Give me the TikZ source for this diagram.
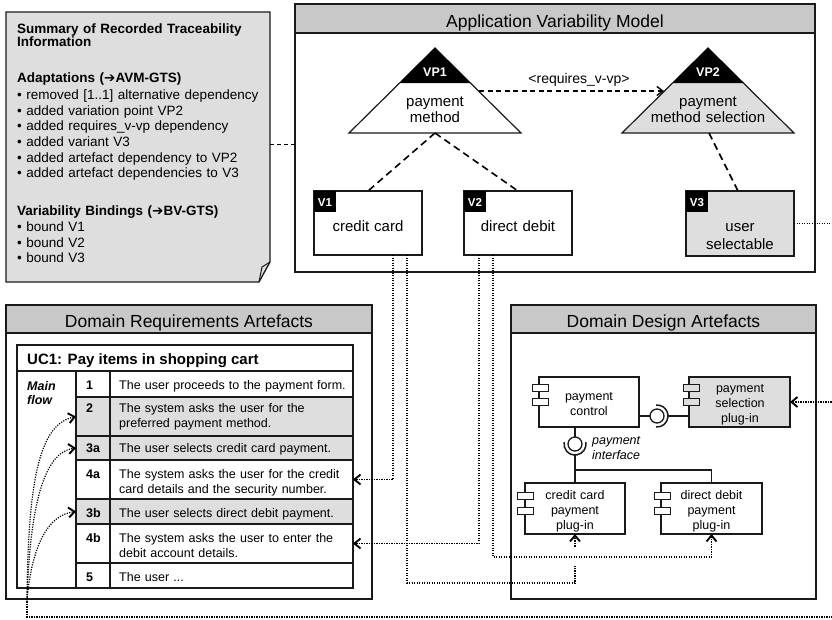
\documentclass[tikz,border=0pt]{standalone}
\usepackage{fontspec}
\setmainfont{Liberation Sans}
\newfontfamily\symfont{DejaVu Sans}
\usetikzlibrary{arrows.meta,calc}
\definecolor{bargray}{HTML}{C8C8C8}
\definecolor{fillgray}{HTML}{DEDEDE}
\definecolor{edgec}{HTML}{1A1A1A}
\newcommand{\fsz}[2]{\fontsize{#1}{#2}\selectfont}
\begin{document}
\begin{tikzpicture}[x=1pt,y=-1pt,
  box/.style={draw=edgec,line width=1.3,fill=white,anchor=north west,inner sep=0,outer sep=0},
  bar/.style={box,fill=bargray},
  cell/.style={draw=edgec,line width=1.2,fill=white,anchor=north west,inner sep=0,outer sep=0},
  tag/.style={fill=black,anchor=north west,inner sep=0,outer sep=0,minimum width=22,minimum height=21},
  tagtext/.style={text=white,font=\bfseries\fsz{11.5}{13},anchor=base,inner sep=0},
  titletext/.style={font=\fsz{17.5}{20},anchor=base,inner sep=0},
  lbl/.style={font=\fsz{15}{16.5},anchor=base,inner sep=0,align=center,text width=#1},
  lbl/.default=110,
  comp/.style={font=\fsz{12.5}{15},anchor=base,inner sep=0,align=center,text width=100},
  icon/.style={draw=edgec,line width=1,fill=white,anchor=north west,inner sep=0,outer sep=0,minimum width=16,minimum height=7},
  num/.style={font=\bfseries\fsz{12.5}{15},anchor=base west,inner sep=0},
  tb/.style={font=\fsz{12.5}{15},anchor=base west,inner sep=0,align=left,text width=238},
  notetxt/.style={anchor=base west,inner sep=0,align=left,text width=255},
  dotl/.style={line width=1.2,dash pattern=on 1.2pt off 1.3pt},
  arr/.style={-{Straight Barb[length=6pt,width=10pt,line width=1.9pt]}},
  notedash/.style={line width=1,dash pattern=on 4pt off 3pt},
  reqdash/.style={line width=1.2,dash pattern=on 5pt off 3.5pt},
  vpdash/.style={line width=1.6,dash pattern=on 7pt off 4.5pt},
  iface/.style={draw=edgec,line width=1.3}
]
\useasboundingbox (0,0) rectangle (832,619);
\clip (0,0) rectangle (832,619);

% ---------- Note ----------
\node[anchor=north west,inner sep=0,outer sep=0,minimum width=264,minimum height=270] (note) at (6,12) {};
\filldraw[fill=fillgray,draw=edgec,line width=1.3] (6,12) -- (270,12) -- (270,262) -- (259,282) -- (6,282) -- cycle;
\draw[edgec,line width=1] (270,262) -- (262,267) -- (259,282);
\node[notetxt,font=\bfseries\fsz{13.5}{13.7}] (notea) at (17,33) {Summary of Recorded Traceability\\Information};
\node[notetxt,font=\fsz{13.5}{15.7}] (noteb) at (17,82) {\textbf{Adaptations ({\symfont ➔}AVM-GTS)}\\[1.6pt]
• removed [1..1] alternative dependency\\
• added variation point VP2\\
• added requires\_v-vp dependency\\
• added variant V3\\
• added artefact dependency to VP2\\
• added artefact dependencies to V3};
\node[notetxt,font=\fsz{13.5}{15.7}] (notec) at (17,215.7) {\textbf{Variability Bindings ({\symfont ➔}BV-GTS)}\\
• bound V1\\
• bound V2\\
• bound V3};

% ---------- Application Variability Model ----------
\node[box,minimum width=520,minimum height=268] (avm) at (295,4) {};
\node[bar,minimum width=520,minimum height=29] (avmbar) at (295,4) {};
\node[titletext] (avmtitle) at (555,27) {Application Variability Model};

\coordinate (ny) at (0,144);
\draw[notedash] (note.east |- ny) -- (avm.west |- ny);

% VP1
\coordinate (vp1b) at (435,133);
\filldraw[fill=white,draw=edgec,line width=1.2] (435,48) -- (521,133) -- (349,133) -- cycle;
\fill[black] (435,48) -- (470.4,83) -- (399.6,83) -- cycle;
\node[tagtext,font=\bfseries\fsz{12.5}{14}] (vp1tag) at (435,76) {VP1};
\node[lbl=120] (vp1txt) at (435,106) {payment\\method};

% VP2
\coordinate (vp2b) at (709,133);
\filldraw[fill=fillgray,draw=edgec,line width=1.2] (708,48) -- (794,133) -- (622,133) -- cycle;
\fill[black] (708,48) -- (743.4,83) -- (672.6,83) -- cycle;
\node[tagtext,font=\bfseries\fsz{12.5}{14}] (vp2tag) at (708,76) {VP2};
\node[lbl=160] (vp2txt) at (708,106) {payment\\method selection};

% requires
\coordinate (vp1r) at (479,91);
\coordinate (vp2l) at (664,91);
\draw[reqdash,-{Straight Barb[length=6pt,width=9pt,line width=1.4pt]}] (vp1r) -- (vp2l);
\node[font=\fsz{14}{16},anchor=base,inner sep=0] (reqlbl) at (579,83) {<requires\_v-vp>};

% Variants
\node[box,minimum width=108,minimum height=64] (v1) at (314,191) {};
\node[tag] (v1tag) at (314,191) {};
\node[tagtext] (v1tagtxt) at (325,206) {V1};
\node[lbl] (v1txt) at (368,231.5) {credit card};

\node[box,minimum width=108,minimum height=64] (v2) at (464,191) {};
\node[tag] (v2tag) at (464,191) {};
\node[tagtext] (v2tagtxt) at (475,206) {V2};
\node[lbl] (v2txt) at (518,231.5) {direct debit};

\node[box,fill=fillgray,minimum width=108,minimum height=65] (v3) at (686,191) {};
\node[tag] (v3tag) at (686,191) {};
\node[tagtext] (v3tagtxt) at (697,206) {V3};
\node[lbl,font=\fsz{15}{18}] (v3txt) at (740,231.5) {user\\selectable};

\draw[vpdash] (vp1b) -- (v1.north);
\draw[vpdash] (vp1b) -- (v2.north);
\draw[vpdash] (vp2b) -- ($(v3.north)+(-2,0)$);

% ---------- Domain Requirements Artefacts ----------
\node[box,minimum width=366,minimum height=294] (dra) at (6,305) {};
\node[bar,minimum width=366,minimum height=28] (drabar) at (6,305) {};
\node[titletext] (dratitle) at (189,327) {Domain Requirements Artefacts};

\node[cell,minimum width=336,minimum height=26] (uc) at (17,345) {};
\node[anchor=base west,inner sep=0,font=\bfseries\fsz{15}{17}] (uctxt) at (27,364) {UC1: Pay items in shopping cart};
\node[cell,minimum width=59,minimum height=217] (mf) at (17,371) {};
\node[anchor=base west,inner sep=0,align=left,text width=50,font=\bfseries\itshape\fsz{12.5}{14}] (mftxt) at (27,390) {Main\\flow};

\node[cell,minimum width=34,minimum height=26] (rn1) at (76,371) {};
\node[cell,minimum width=243,minimum height=26] (rt1) at (110,371) {};
\node[num] at (86,389) {1};
\node[tb] at (119,389) {The user proceeds to the payment form.};

\node[cell,fill=fillgray,minimum width=34,minimum height=39] (rn2) at (76,397) {};
\node[cell,fill=fillgray,minimum width=243,minimum height=39] (rt2) at (110,397) {};
\node[num] at (86,412.5) {2};
\node[tb] at (119,412.5) {The system asks the user for the\\preferred payment method.};

\node[cell,fill=fillgray,minimum width=34,minimum height=24] (rn3a) at (76,436) {};
\node[cell,fill=fillgray,minimum width=243,minimum height=24] (rt3a) at (110,436) {};
\node[num] at (86,452.5) {3a};
\node[tb] at (119,452.5) {The user selects credit card payment.};

\node[cell,minimum width=34,minimum height=39] (rn4a) at (76,460) {};
\node[cell,minimum width=243,minimum height=39] (rt4a) at (110,460) {};
\node[num] at (86,478) {4a};
\node[tb] at (119,478) {The system asks the user for the credit\\card details and the security number.};

\node[cell,fill=fillgray,minimum width=34,minimum height=25] (rn3b) at (76,499) {};
\node[cell,fill=fillgray,minimum width=243,minimum height=25] (rt3b) at (110,499) {};
\node[num] at (86,517.5) {3b};
\node[tb] at (119,517.5) {The user selects direct debit payment.};

\node[cell,minimum width=34,minimum height=39] (rn4b) at (76,524) {};
\node[cell,minimum width=243,minimum height=39] (rt4b) at (110,524) {};
\node[num] at (86,542) {4b};
\node[tb] at (119,542) {The system asks the user to enter the\\debit account details.};

\node[cell,minimum width=34,minimum height=25] (rn5) at (76,563) {};
\node[cell,minimum width=243,minimum height=25] (rt5) at (110,563) {};
\node[num] at (86,581) {5};
\node[tb] at (119,581) {The user ...};

% ---------- Domain Design Artefacts ----------
\node[box,minimum width=305,minimum height=294] (dda) at (511,305) {};
\node[bar,minimum width=305,minimum height=28] (ddabar) at (511,305) {};
\node[titletext] (ddatitle) at (663.5,327) {Domain Design Artefacts};

\node[box,minimum width=100,minimum height=50] (pc) at (539,377) {};
\node[icon] (pci1) at (532,384) {};
\node[icon] (pci2) at (532,398) {};
\node[comp] (pctxt) at (589,400) {payment\\control};

\node[box,fill=fillgray,minimum width=101,minimum height=50] (ps) at (689,377) {};
\node[icon,fill=fillgray] (psi1) at (683,384) {};
\node[icon,fill=fillgray] (psi2) at (683,398) {};
\node[comp] (pstxt) at (740,392.3) {payment\\selection\\plug-in};

\node[box,minimum width=100,minimum height=51] (cc) at (525,483) {};
\node[icon] (cci1) at (517,492) {};
\node[icon] (cci2) at (517,507) {};
\node[comp] (cctxt) at (575,499.3) {credit card\\payment\\plug-in};

\node[box,minimum width=101,minimum height=51] (dd) at (661,483) {};
\node[icon] (ddi1) at (654,492) {};
\node[icon] (ddi2) at (654,507) {};
\node[comp] (ddtxt) at (711.5,499.3) {direct debit\\payment\\plug-in};

% interfaces
\coordinate (ballh) at (657,416);
\draw[iface] (pc.east |- ballh) -- ($(ballh)+(-7,0)$);
\draw[iface] (ballh) circle[radius=7];
\draw[iface,line width=1.5] ($(ballh)+(95:11)$) arc[start angle=95,end angle=-95,radius=11];
\draw[iface] ($(ballh)+(11,0)$) -- (ps.west |- ballh);

\coordinate (ballv) at (575,444);
\coordinate (jn) at (575,470);
\draw[iface] (pc.south -| ballv) -- ($(ballv)+(0,-7)$);
\draw[iface] (ballv) circle[radius=7];
\draw[iface,line width=1.5] ($(ballv)+(-10:11)$) arc[start angle=-10,end angle=190,radius=11];
\draw[iface] ($(ballv)+(0,11)$) -- (jn) -- (cc.north);
\draw[iface] (jn) -| (dd.north);
\node[anchor=base west,inner sep=0,align=left,text width=60,font=\itshape\fsz{12.5}{14.5}] (pilbl) at (592,444.5) {payment\\interface};

% ---------- traceability connectors ----------
\draw[dotl,arr] ($(v1.south)+(25,0)$) |- (rt4a.east);
\draw[dotl,arr] ($(v1.south)+(39,0)$) |- ($(cc.south)+(0,49)$) -- (cc.south);
\draw[white,line width=4] (575,547) -- (575,566);
\draw[dotl,arr] ($(v2.south)+(-39,0)$) |- (rt4b.east);
\draw[dotl,arr] ($(v2.south)+(-25,0)$) |- ($(dd.south)+(0,23)$) -- (dd.south);

\coordinate (r1) at (854,223.5);
\coordinate (r2) at (854,617);
\coordinate (r3) at (27,617);
\coordinate (fork) at (27,600);
\coordinate (r4) at (854,402);
\draw[dotl] (v3.east) -- (r1) -- (r2) -- (r3) -- (fork);
\draw[dotl,arr] (r4) -- (ps.east);
\draw[dotl,arr] (fork) .. controls (28,470) and (42,424) .. (rn2.west);
\draw[dotl,arr] (fork) .. controls (30,505) and (44,452) .. (rn3a.west);
\draw[dotl,arr] (fork) .. controls (32,545) and (48,515) .. (rn3b.west);
\end{tikzpicture}
\end{document}
